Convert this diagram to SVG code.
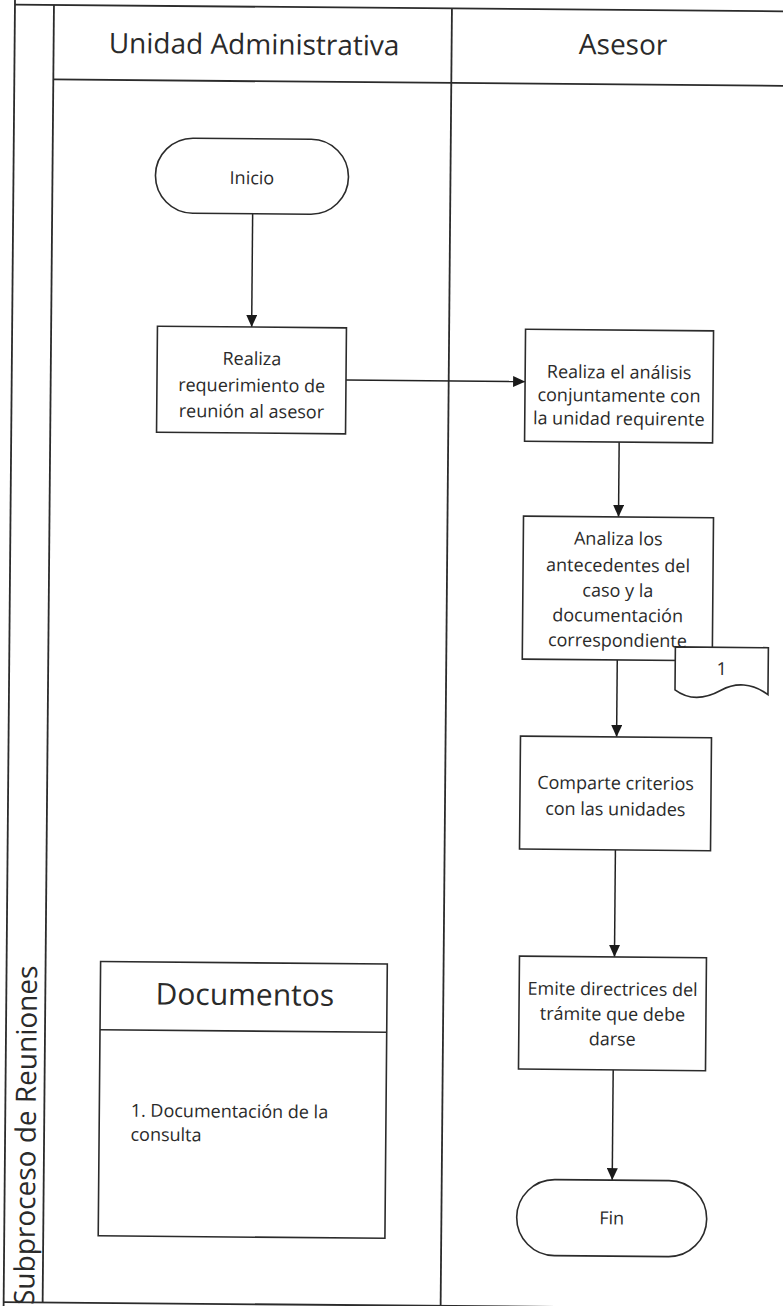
<svg xmlns="http://www.w3.org/2000/svg" width="783" height="1306" viewBox="0 0 783 1306">
<style>
.frame{stroke:#2b2b2b;stroke-width:1.8;fill:none}
.box{fill:#fff;stroke:#2b2b2b;stroke-width:1.6}
.conn{stroke:#222;stroke-width:1.5;fill:none;marker-end:url(#arr)}
text{font-family:"Open Sans","Liberation Sans",sans-serif;fill:#2a2a2a}
.t{font-size:18px;text-anchor:middle}
.h{font-size:28px;text-anchor:middle}
</style>
<defs>
<marker id="arr" viewBox="0 0 12 11" refX="12" refY="5.5" markerWidth="12" markerHeight="11" markerUnits="userSpaceOnUse" orient="auto">
<path d="M0,0 L12,5.5 L0,11 Z" fill="#1a1a1a"/>
</marker>
</defs>
<rect width="783" height="1306" fill="#fff"/>
<g transform="rotate(0.5)">
<g id="frame">
<line class="frame" x1="15" y1="-10" x2="15" y2="1320"/>
<line class="frame" x1="15" y1="4.5" x2="800" y2="4.5"/>
<line class="frame" x1="54" y1="4.5" x2="54" y2="1302"/>
<line class="frame" x1="54" y1="79" x2="800" y2="79"/>
<line class="frame" x1="452" y1="4.5" x2="452" y2="1320"/>
<line class="frame" x1="15" y1="1302" x2="800" y2="1302"/>
</g>
<g id="lane-label">
<text font-size="28" text-anchor="middle" dominant-baseline="central" transform="translate(34.5,1135) rotate(-90)">Subproceso de Reuniones</text>
</g>
<g id="header-unidad"><text class="h" x="254.5" y="52">Unidad Administrativa</text></g>
<g id="header-asesor"><text class="h" x="623.5" y="49">Asesor</text></g>

<g id="connectors">
<line class="conn" x1="254.5" y1="211.5" x2="254.5" y2="324.8"/>
<line class="conn" x1="349.3" y1="377" x2="528.4" y2="377"/>
<line class="conn" x1="623" y1="436.6" x2="623" y2="511.5"/>
<line class="conn" x1="623" y1="654.5" x2="623" y2="731.5"/>
<line class="conn" x1="622.8" y1="844.5" x2="622.8" y2="951.5"/>
<line class="conn" x1="622.5" y1="1064.5" x2="622.5" y2="1174.7"/>
</g>

<g id="inicio">
<rect class="box" x="157" y="136.5" width="193" height="75" rx="37.5" ry="37.5"/>
<text class="t" x="253.5" y="182">Inicio</text>
</g>
<g id="realiza-requerimiento">
<rect class="box" x="160.3" y="324.8" width="189" height="106"/>
<text class="t" x="255" y="362.8">Realiza</text>
<text class="t" x="255" y="389.5">requerimiento de</text>
<text class="t" x="255" y="415.5">reunión al asesor</text>
</g>
<g id="realiza-analisis">
<rect class="box" x="528.4" y="324.6" width="188" height="112"/>
<text class="t" x="622.4" y="373">Realiza el análisis</text>
<text class="t" x="622.4" y="396.3">conjuntamente con</text>
<text class="t" x="622.4" y="419.6">la unidad requirente</text>
</g>
<g id="analiza-antecedentes">
<rect class="box" x="528" y="511.5" width="190" height="143"/>
<text class="t" x="623" y="539.6">Analiza los</text>
<text class="t" x="623" y="566.3">antecedentes del</text>
<text class="t" x="623" y="591.3">caso y la</text>
<text class="t" x="623" y="616.3">documentación</text>
<text class="t" x="623" y="641.3">correspondiente</text>
</g>
<g id="documento-1">
<path class="box" d="M681,641 H774 V688 C758,676 741,676 727,684 C711,693 696,695 681,684 Z"/>
<text class="t" x="727.6" y="668.7">1</text>
</g>
<g id="comparte-criterios">
<rect class="box" x="526.9" y="731.5" width="191" height="113"/>
<text class="t" x="622.4" y="784">Comparte criterios</text>
<text class="t" x="622.4" y="810">con las unidades</text>
</g>
<g id="emite-directrices">
<rect class="box" x="527.8" y="951.5" width="187" height="113"/>
<text class="t" x="621.3" y="990">Emite directrices del</text>
<text class="t" x="621.3" y="1015">trámite que debe</text>
<text class="t" x="621.3" y="1040">darse</text>
</g>
<g id="fin">
<rect class="box" x="527.3" y="1174.7" width="190" height="76" rx="38" ry="38"/>
<text class="t" x="622.3" y="1219">Fin</text>
</g>
<g id="documentos">
<rect class="box" x="109" y="960.6" width="286.7" height="274.3"/>
<line class="frame" x1="109" y1="1028.9" x2="395.7" y2="1028.9" style="stroke-width:1.6"/>
<text font-size="30" text-anchor="middle" x="253.6" y="1003">Documentos</text>
<text font-size="18" x="140.4" y="1115.5">1. Documentación de la</text>
<text font-size="18" x="140.4" y="1139.5">consulta</text>
</g>
</g>
</svg>
